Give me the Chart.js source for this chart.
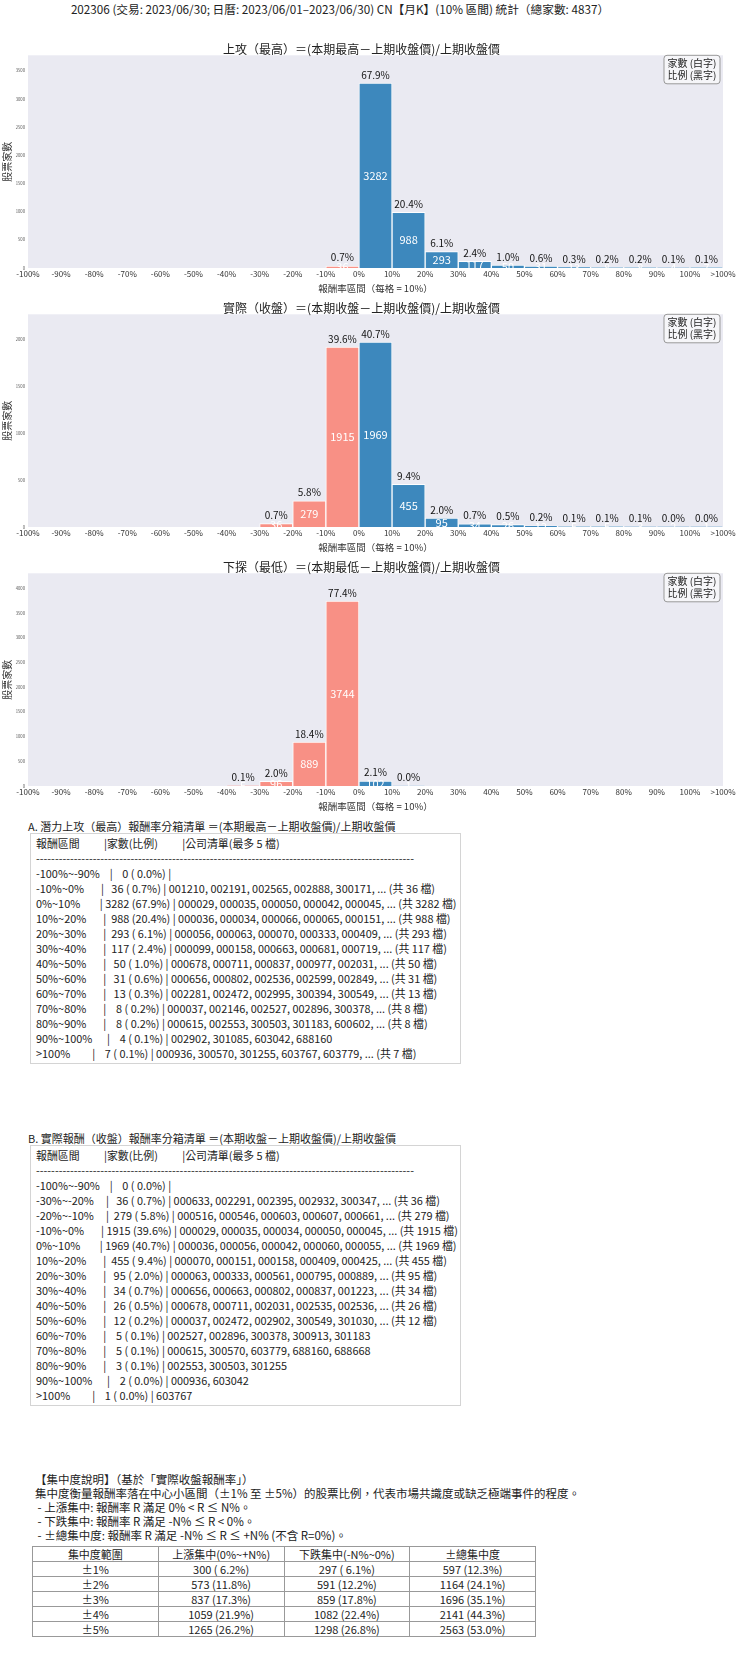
<!DOCTYPE html>
<html lang="zh-Hant">
<head>
<meta charset="UTF-8">
<title>202306 CN 月K 報酬率分箱統計</title>
<script src="https://cdn.jsdelivr.net/npm/chart.js"></script>
<style>
    body {
        margin: 0;
        width: 740px;
        height: 1660px;
        position: relative;
        background: #fff;
        color: #222;
        font-family: "Noto Sans CJK TC", "Noto Sans", sans-serif;
        overflow: hidden;
    }
    #suptitle {
        position: absolute;
        top: 0;
        left: 0;
        width: 680px;
        text-align: center;
        font-size: 11.7px;
        line-height: 18px;
        white-space: nowrap;
    }
    .chart-wrap { position: absolute; left: 0; width: 740px; height: 256px; }
    .sec-title {
        position: absolute;
        left: 28px;
        font-size: 11px;
        line-height: 15px;
        white-space: pre;
    }
    .list-box {
        position: absolute;
        left: 30px;
        width: 431px;
        box-sizing: border-box;
        border: 1px solid #d4d4d4;
        padding: 2px 0 3px 5px;
        font-size: 10.9px;
        line-height: 15px;
        white-space: pre;
        overflow: hidden;
    }
    #note {
        position: absolute;
        left: 35px;
        top: 1471.5px;
        font-size: 11.5px;
        line-height: 14px;
        white-space: pre;
    }
    #conc {
        position: absolute;
        left: 32px;
        top: 1546px;
        width: 504px;
        border-collapse: collapse;
        table-layout: fixed;
        font-size: 11px;
    }
    #conc td, #conc th {
        border: 1px solid #999;
        height: 14px;
        padding: 0;
        text-align: center;
        font-weight: normal;
        line-height: 14px;
    }
</style>
</head>
<body>

<div id="suptitle">202306 (交易: 2023/06/30; 日曆: 2023/06/01–2023/06/30) CN【月K】(10% 區間) 統計（總家數: 4837）</div>

<div class="chart-wrap" style="top:40px"><canvas id="highChart" width="740" height="256"></canvas></div>
<div class="chart-wrap" style="top:299px"><canvas id="closeChart" width="740" height="256"></canvas></div>
<div class="chart-wrap" style="top:558px"><canvas id="lowChart" width="740" height="256"></canvas></div>

<div class="sec-title" style="top:818.5px">A. 潛力上攻（最高）報酬率分箱清單 ＝(本期最高－上期收盤價)/上期收盤價</div>
<div class="list-box" style="top:833px;height:231px">報酬區間          |家數(比例)          |公司清單(最多 5 檔)
----------------------------------------------------------------------------------------------------
-100%~-90%    |    0 ( 0.0%) |
-10%~0%       |   36 ( 0.7%) | 001210, 002191, 002565, 002888, 300171, ... (共 36 檔)
0%~10%        | 3282 (67.9%) | 000029, 000035, 000050, 000042, 000045, ... (共 3282 檔)
10%~20%       |  988 (20.4%) | 000036, 000034, 000066, 000065, 000151, ... (共 988 檔)
20%~30%       |  293 ( 6.1%) | 000056, 000063, 000070, 000333, 000409, ... (共 293 檔)
30%~40%       |  117 ( 2.4%) | 000099, 000158, 000663, 000681, 000719, ... (共 117 檔)
40%~50%       |   50 ( 1.0%) | 000678, 000711, 000837, 000977, 002031, ... (共 50 檔)
50%~60%       |   31 ( 0.6%) | 000656, 000802, 002536, 002599, 002849, ... (共 31 檔)
60%~70%       |   13 ( 0.3%) | 002281, 002472, 002995, 300394, 300549, ... (共 13 檔)
70%~80%       |    8 ( 0.2%) | 000037, 002146, 002527, 002896, 300378, ... (共 8 檔)
80%~90%       |    8 ( 0.2%) | 000615, 002553, 300503, 301183, 600602, ... (共 8 檔)
90%~100%      |    4 ( 0.1%) | 002902, 301085, 603042, 688160
>100%         |    7 ( 0.1%) | 000936, 300570, 301255, 603767, 603779, ... (共 7 檔)</div>

<div class="sec-title" style="top:1130.8px">B. 實際報酬（收盤）報酬率分箱清單 ＝(本期收盤－上期收盤價)/上期收盤價</div>
<div class="list-box" style="top:1145px;height:261px">報酬區間          |家數(比例)          |公司清單(最多 5 檔)
----------------------------------------------------------------------------------------------------
-100%~-90%    |    0 ( 0.0%) |
-30%~-20%     |   36 ( 0.7%) | 000633, 002291, 002395, 002932, 300347, ... (共 36 檔)
-20%~-10%     |  279 ( 5.8%) | 000516, 000546, 000603, 000607, 000661, ... (共 279 檔)
-10%~0%       | 1915 (39.6%) | 000029, 000035, 000034, 000050, 000045, ... (共 1915 檔)
0%~10%        | 1969 (40.7%) | 000036, 000056, 000042, 000060, 000055, ... (共 1969 檔)
10%~20%       |  455 ( 9.4%) | 000070, 000151, 000158, 000409, 000425, ... (共 455 檔)
20%~30%       |   95 ( 2.0%) | 000063, 000333, 000561, 000795, 000889, ... (共 95 檔)
30%~40%       |   34 ( 0.7%) | 000656, 000663, 000802, 000837, 001223, ... (共 34 檔)
40%~50%       |   26 ( 0.5%) | 000678, 000711, 002031, 002535, 002536, ... (共 26 檔)
50%~60%       |   12 ( 0.2%) | 000037, 002472, 002902, 300549, 301030, ... (共 12 檔)
60%~70%       |    5 ( 0.1%) | 002527, 002896, 300378, 300913, 301183
70%~80%       |    5 ( 0.1%) | 000615, 300570, 603779, 688160, 688668
80%~90%       |    3 ( 0.1%) | 002553, 300503, 301255
90%~100%      |    2 ( 0.0%) | 000936, 603042
>100%         |    1 ( 0.0%) | 603767</div>

<div id="note">【集中度說明】（基於「實際收盤報酬率」）
集中度衡量報酬率落在中心小區間（±1% 至 ±5%）的股票比例，代表市場共識度或缺乏極端事件的程度。
 - 上漲集中: 報酬率 R 滿足 0% &lt; R ≤ N%。
 - 下跌集中: 報酬率 R 滿足 -N% ≤ R &lt; 0%。
 - ±總集中度: 報酬率 R 滿足 -N% ≤ R ≤ +N% (不含 R=0%)。</div>

<table id="conc">
    <tr><th>集中度範圍</th><th>上漲集中(0%~+N%)</th><th>下跌集中(-N%~0%)</th><th>±總集中度</th></tr>
    <tr><td>±1%</td><td>300 ( 6.2%)</td><td>297 ( 6.1%)</td><td>597 (12.3%)</td></tr>
    <tr><td>±2%</td><td>573 (11.8%)</td><td>591 (12.2%)</td><td>1164 (24.1%)</td></tr>
    <tr><td>±3%</td><td>837 (17.3%)</td><td>859 (17.8%)</td><td>1696 (35.1%)</td></tr>
    <tr><td>±4%</td><td>1059 (21.9%)</td><td>1082 (22.4%)</td><td>2141 (44.3%)</td></tr>
    <tr><td>±5%</td><td>1265 (26.2%)</td><td>1298 (26.8%)</td><td>2563 (53.0%)</td></tr>
</table>

<script>
    // bin edges (22 labels for 21 bins of 10%)
    const binEdges = ['-100%', '-90%', '-80%', '-70%', '-60%', '-50%', '-40%', '-30%', '-20%', '-10%',
        '0%', '10%', '20%', '30%', '40%', '50%', '60%', '70%', '80%', '90%', '100%', '>100%'];

    const totalStocks = 4837;

    // counts per bin: -100~-90 ... 90~100, >100
    const highCounts  = [0, 0, 0, 0, 0, 0, 0, 0, 0, 36, 3282, 988, 293, 117, 50, 31, 13, 8, 8, 4, 7];
    const closeCounts = [0, 0, 0, 0, 0, 0, 0, 36, 279, 1915, 1969, 455, 95, 34, 26, 12, 5, 5, 3, 2, 1];
    const lowCounts   = [0, 0, 0, 0, 0, 0, 5, 96, 889, 3744, 102, 1, 0, 0, 0, 0, 0, 0, 0, 0, 0];

    // y tick values of each panel
    const highTicks  = [0, 500, 1000, 1500, 2000, 2500, 3000, 3500];
    const closeTicks = [0, 500, 1000, 1500, 2000];
    const lowTicks   = [0, 500, 1000, 1500, 2000, 2500, 3000, 3500, 4000];

    const titles = [
        '上攻（最高）＝(本期最高－上期收盤價)/上期收盤價',
        '實際（收盤）＝(本期收盤－上期收盤價)/上期收盤價',
        '下探（最低）＝(本期最低－上期收盤價)/上期收盤價'
    ];

    const BLUE = 'rgba(31, 119, 180, 0.85)';
    const SALMON = 'rgba(250, 128, 114, 0.85)';
    const FONT = '"Noto Sans CJK TC", "Noto Sans", sans-serif';

    Chart.defaults.font.family = FONT;

    // grey seaborn-like plot background
    const plotBg = {
        id: 'plotBg',
        beforeDraw(chart) {
            const { ctx, chartArea: a } = chart;
            ctx.save();
            ctx.fillStyle = '#eaeaf2';
            ctx.fillRect(a.left, a.top, a.width, a.height);
            ctx.restore();
        }
    };

    // count (white, inside) and share (black, on top)
    const barText = {
        id: 'barText',
        afterDatasetsDraw(chart) {
            const ctx = chart.ctx;
            const meta = chart.getDatasetMeta(0);
            const pts = chart.data.datasets[0].data;
            ctx.save();
            ctx.textAlign = 'center';
            ctx.textBaseline = 'middle';
            meta.data.forEach((bar, i) => {
                const n = pts[i].y;
                ctx.fillStyle = '#111';
                ctx.font = '10px ' + FONT;
                ctx.fillText((n / totalStocks * 100).toFixed(1) + '%', bar.x, bar.y - 8.3);
                ctx.fillStyle = '#fff';
                ctx.font = '11px ' + FONT;
                ctx.fillText(String(n), bar.x, (bar.y + bar.base) / 2);
            });
            ctx.restore();
        }
    };

    // small note box in the top-right corner
    const noteBox = {
        id: 'noteBox',
        afterDraw(chart) {
            const { ctx, chartArea: a } = chart;
            const w = 56, h = 28.5;
            const x = a.right - w - 3, y = a.top;
            ctx.save();
            ctx.beginPath();
            ctx.roundRect(x, y, w, h, 3);
            ctx.fillStyle = 'rgba(255, 255, 255, 0.55)';
            ctx.fill();
            ctx.strokeStyle = '#999';
            ctx.lineWidth = 1;
            ctx.stroke();
            ctx.fillStyle = '#222';
            ctx.font = '10px ' + FONT;
            ctx.textAlign = 'center';
            ctx.textBaseline = 'middle';
            ctx.fillText('家數 (白字)', x + w / 2, y + 8);
            ctx.fillText('比例 (黑字)', x + w / 2, y + 19.5);
            ctx.restore();
        }
    };

    function makeChart(id, title, counts, yTicks) {
        const pts = [];
        const colors = [];
        counts.forEach((c, i) => {
            if (c > 0) {
                pts.push({ x: i + 0.5, y: c });
                colors.push(i < 10 ? SALMON : BLUE);
            }
        });

        return new Chart(document.getElementById(id), {
            type: 'bar',
            data: {
                datasets: [{
                    data: pts,
                    backgroundColor: colors,
                    borderColor: 'rgba(255, 255, 255, 0.9)',
                    borderWidth: 1,
                    barPercentage: 1,
                    categoryPercentage: 1
                }]
            },
            options: {
                responsive: false,
                animation: false,
                layout: { padding: { top: 0, right: 17, bottom: 0, left: 0 } },
                plugins: {
                    legend: { display: false },
                    tooltip: { enabled: false },
                    title: {
                        display: true,
                        text: title,
                        color: '#222',
                        font: { size: 12, weight: 'normal', lineHeight: 1 },
                        padding: { top: 3.3, bottom: 0 }
                    }
                },
                scales: {
                    x: {
                        type: 'linear',
                        offset: false,
                        min: 0,
                        max: 21,
                        grid: { display: false, drawTicks: false },
                        border: { display: false },
                        ticks: {
                            stepSize: 1,
                            autoSkip: false,
                            maxRotation: 0,
                            padding: 1,
                            color: '#333',
                            font: { size: 8 },
                            callback: v => binEdges[v]
                        },
                        title: {
                            display: true,
                            text: '報酬率區間（每格 = 10%）',
                            color: '#333',
                            font: { size: 9.5 },
                            padding: { top: 2.7, bottom: 2.3 }
                        }
                    },
                    y: {
                        min: 0,
                        max: Math.max(...counts) * 1.15,
                        grid: { display: false, drawTicks: false },
                        border: { display: false },
                        afterBuildTicks(scale) {
                            scale.ticks = yTicks.map(v => ({ value: v }));
                        },
                        ticks: {
                            autoSkip: false,
                            padding: 3,
                            color: '#555',
                            font: { size: 4.2 },
                            callback: v => String(v)
                        },
                        title: {
                            display: true,
                            text: '股票家數',
                            color: '#333',
                            font: { size: 10 },
                            padding: { top: 1.5, bottom: 0 }
                        },
                        afterFit(scale) { scale.width = 28; }
                    }
                }
            },
            plugins: [plotBg, barText, noteBox]
        });
    }

    makeChart('highChart', titles[0], highCounts, highTicks);
    makeChart('closeChart', titles[1], closeCounts, closeTicks);
    makeChart('lowChart', titles[2], lowCounts, lowTicks);
</script>
</body>
</html>
